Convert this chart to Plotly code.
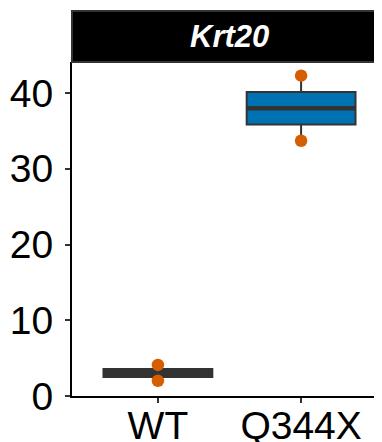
import numpy as np
import plotly.graph_objects as go

# ---- data ----
categories = ["WT", "Q344X"]
wt_values = [2.0, 4.1]
q344x_values = [33.7, 42.3]
fill_colors = ["#333333", "#0072B2"]
point_color = "#D55E00"
gene = "Krt20"
y_ticks = [0, 10, 20, 30, 40]

series = [wt_values, q344x_values]

fig = go.Figure()

BOX_W = 0.76
for cat, vals, fc in zip(categories, series, fill_colors):
    v = np.array(vals, dtype=float)
    q1, med, q3 = np.percentile(v, [25, 50, 75])
    iqr = q3 - q1
    lo = v[v >= q1 - 1.5 * iqr].min()
    hi = v[v <= q3 + 1.5 * iqr].max()
    fig.add_trace(go.Box(
        x=[cat], q1=[q1], median=[med], q3=[q3],
        lowerfence=[lo], upperfence=[hi],
        width=BOX_W, whiskerwidth=0,
        fillcolor=fc, line=dict(color="#333333", width=2),
        boxpoints=False, hoverinfo="skip", showlegend=False,
    ))
    # thicker median line (ggplot fatten=2)
    fig.add_trace(go.Box(
        x=[cat], q1=[med], median=[med], q3=[med],
        lowerfence=[med], upperfence=[med],
        width=BOX_W, whiskerwidth=0,
        fillcolor="#333333", line=dict(color="#333333", width=4.5),
        boxpoints=False, hoverinfo="skip", showlegend=False,
    ))

for cat, vals in zip(categories, series):
    fig.add_trace(go.Scatter(
        x=[cat] * len(vals), y=vals, mode="markers",
        marker=dict(color=point_color, size=12.5, line=dict(width=0)),
        showlegend=False, hoverinfo="skip",
    ))

# page has an 8px body margin; layout compensates
plot_top, plot_bottom, plot_left, plot_right = 54, 388, 64, 379
plot_h = plot_bottom - plot_top
strip_top = 1 + (plot_top - 3) / plot_h

fig.update_layout(
    width=382, height=442,
    margin=dict(l=plot_left, r=382 - plot_right, t=plot_top,
                b=442 - plot_bottom, autoexpand=False),
    paper_bgcolor="white", plot_bgcolor="white",
    boxmode="overlay",
    font=dict(family="Liberation Sans, Arial, sans-serif", color="black"),
    xaxis=dict(
        type="category", categoryorder="array", categoryarray=categories,
        range=[-0.6, 1.6], automargin=False,
        showline=True, linecolor="black", linewidth=2,
        ticks="outside", ticklen=5, tickwidth=2, tickcolor="#333333",
        tickfont=dict(size=39, color="black"),
        ticklabelstandoff=-11,
        showgrid=False, zeroline=False,
    ),
    yaxis=dict(
        range=[0, 44.1], automargin=False,
        tickvals=y_ticks, ticktext=[str(t) for t in y_ticks],
        showline=True, linecolor="black", linewidth=2,
        ticks="outside", ticklen=5, tickwidth=2, tickcolor="#333333",
        tickfont=dict(size=39, color="black"),
        ticklabelstandoff=4,
        showgrid=False, zeroline=False,
    ),
    shapes=[dict(
        type="rect", xref="paper", yref="paper",
        x0=0, x1=1.05, y0=1, y1=strip_top,
        fillcolor="black", line=dict(color="#333333", width=2),
        layer="above",
    )],
    annotations=[dict(
        text=f"<b><i>{gene}</i></b>", xref="paper", yref="paper",
        x=(229 - 72) / 315, y=(1 + strip_top) / 2,
        xanchor="center", yanchor="middle", showarrow=False,
        font=dict(size=31, color="white", family="Liberation Sans, Arial, sans-serif"),
    )],
)

fig.write_html("out.html")
